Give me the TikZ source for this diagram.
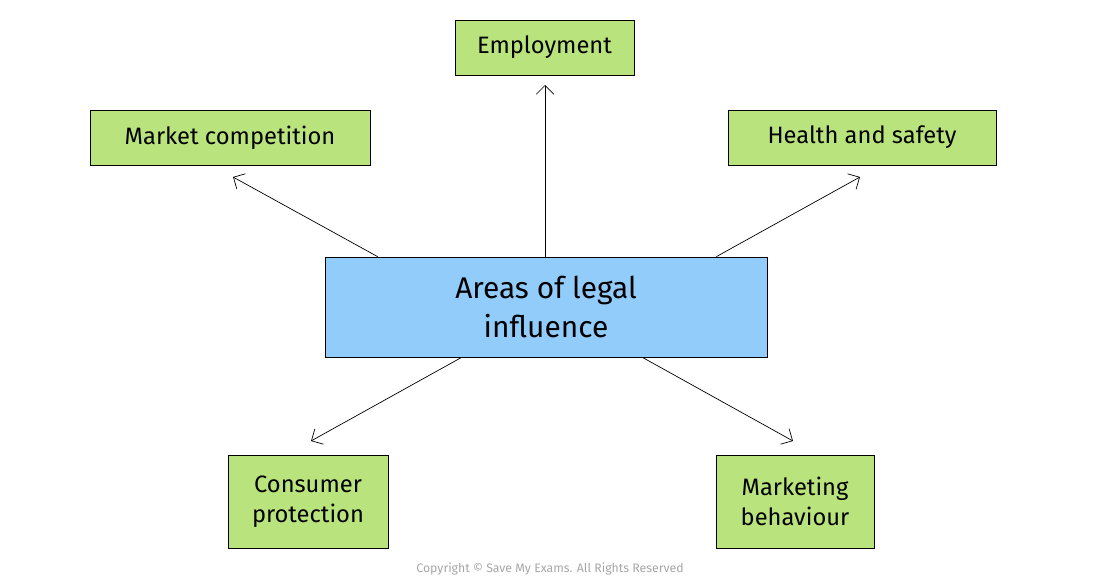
\documentclass[tikz,border=0pt]{standalone}
\usepackage{fontspec}
\setmainfont{Fira Sans}
\usetikzlibrary{positioning, arrows.meta}
\definecolor{mygreen}{RGB}{185,228,125}
\definecolor{myblue}{RGB}{146,204,250}

\tikzset{
  area/.style={draw, fill=mygreen, inner sep=0pt, font=\fontsize{13.5}{17}\selectfont, align=center},
  arr/.style={->, >={Straight Barb[length=5pt,width=10pt]}, thin},
}

\begin{document}
\begin{tikzpicture}[x=0.02cm, y=-0.02cm]
\useasboundingbox (0,0) rectangle (1100,578);

\node[draw, fill=myblue, minimum width=442*0.02cm, minimum height=100*0.02cm, align=center,
  font=\fontsize{17}{22}\selectfont] (centre) at (546,307) {Areas of legal\\influence};

\node[area, minimum width=179*0.02cm, minimum height=55*0.02cm] (employ) at (544.5,47.5) {Employment};
\node[area, minimum width=280*0.02cm, minimum height=55*0.02cm] (market) at (230,137.5) {Market competition};
\node[area, minimum width=268*0.02cm, minimum height=55*0.02cm] (health) at (862,137.5) {Health and safety};
\node[area, minimum width=160*0.02cm, minimum height=93*0.02cm] (consumer) at (308,501.5) {Consumer\\protection};
\node[area, minimum width=158*0.02cm, minimum height=93*0.02cm] (marketing) at (795,501.5) {Marketing\\behaviour};

%----------ARROW TIPS-------------%
\coordinate (tipE) at (545,85);
\coordinate (tipM) at (233,177);
\coordinate (tipH) at (860,177);
\coordinate (tipC) at (311,441);
\coordinate (tipK) at (793,441);

\draw[arr] (centre.north -| tipE) -- (tipE);
\draw[arr] ([xshift=53*0.02cm]centre.north west) -- (tipM);
\draw[arr] ([xshift=-51*0.02cm]centre.north east) -- (tipH);
\draw[arr] ([xshift=137*0.02cm]centre.south west) -- (tipC);
\draw[arr] ([xshift=-125*0.02cm]centre.south east) -- (tipK);

\node[text=gray!70, font=\fontsize{7}{8}\selectfont] (copy) at (550,569) {Copyright \textcopyright{} Save My Exams. All Rights Reserved};
\end{tikzpicture}
\end{document}
